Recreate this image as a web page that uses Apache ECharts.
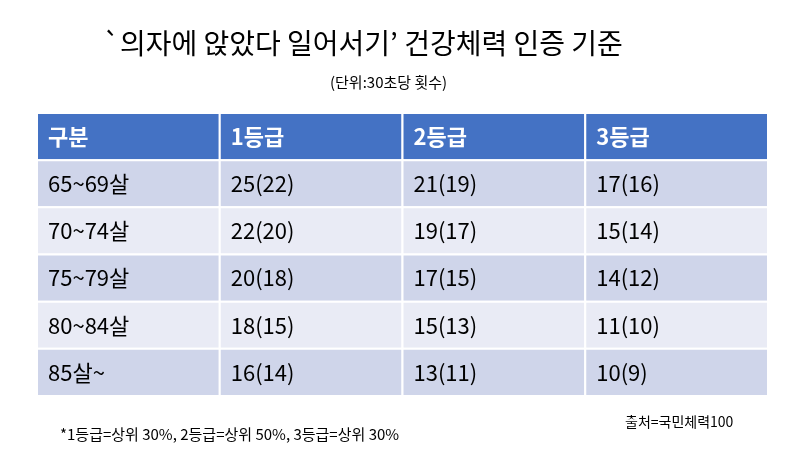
<!DOCTYPE html>
<html><head><meta charset="utf-8">
<script src="https://cdn.jsdelivr.net/npm/echarts@6/dist/echarts.min.js"></script>
<style>html,body{margin:0;background:#fff}#c{width:800px;height:449px}</style></head>
<body><div id="c"></div>
<script>
const headers = ['구분','1등급','2등급','3등급'];
const ageGroups = ['65~69살','70~74살','75~79살','80~84살','85살~'];
const grade1 = ['25(22)','22(20)','20(18)','18(15)','16(14)'];
const grade2 = ['21(19)','19(17)','17(15)','15(13)','13(11)'];
const grade3 = ['17(16)','15(14)','14(12)','11(10)','10(9)'];
const rowKeys = ['h','r0','r1','r2','r3','r4'];
const colKeys = ['c0','c1','c2','c3'];

const cells = [];
headers.forEach((h,ci)=>cells.push([ci,0,h]));
ageGroups.forEach((a,ri)=>{
  [a,grade1[ri],grade2[ri],grade3[ri]].forEach((v,ci)=>cells.push([ci,ri+1,v]));
});
const F = '"Noto Sans CJK KR", sans-serif';
const chart = echarts.init(document.getElementById('c'));
chart.setOption({
  backgroundColor:'#fff',
  title:[
    {text:'`의자에 앉았다 일어서기’ 건강체력 인증 기준',left:98,top:24,textStyle:{fontFamily:F,fontSize:28,fontWeight:'normal',color:'#000'}},
    {text:'(단위:30초당 횟수)',left:325,top:70,textStyle:{fontFamily:F,fontSize:15,fontWeight:'normal',color:'#000'}},
    {text:'*1등급=상위 30%, 2등급=상위 50%, 3등급=상위 30%',left:55,top:422,textStyle:{fontFamily:F,fontSize:15,fontWeight:'normal',color:'#000'}},
    {text:'출처=국민체력100',left:620,top:410,textStyle:{fontFamily:F,fontSize:14,fontWeight:'normal',color:'#000'}}
  ],
  grid:{left:37,right:32,top:113,bottom:53},
  xAxis:{type:'category',data:colKeys,show:false},
  yAxis:{type:'category',data:rowKeys,inverse:true,show:false},
  series:[{
    type:'custom',
    data:cells,
    renderItem:(params,api)=>{
      const ci=api.value(0), ri=api.value(1);
      const txt=cells[params.dataIndex][2];
      const c=api.coord([ci,ri]);
      const s=api.size([1,1]);
      const x=c[0]-s[0]/2, y=c[1]-s[1]/2;
      const fill = ri===0 ? '#4472C4' : (ri%2===1 ? '#CFD5EA' : '#E9EBF5');
      return {type:'group',children:[
        {type:'rect',shape:{x:x,y:y,width:s[0],height:s[1]},style:{fill:fill,stroke:'#fff',lineWidth:2}},
        {type:'text',style:{text:txt,x:x+11,y:c[1],textVerticalAlign:'middle',fill:ri===0?'#fff':'#000',font:(ri===0?'bold ':'')+'22px '+F}}
      ]};
    }
  }]
});
</script></body></html>
